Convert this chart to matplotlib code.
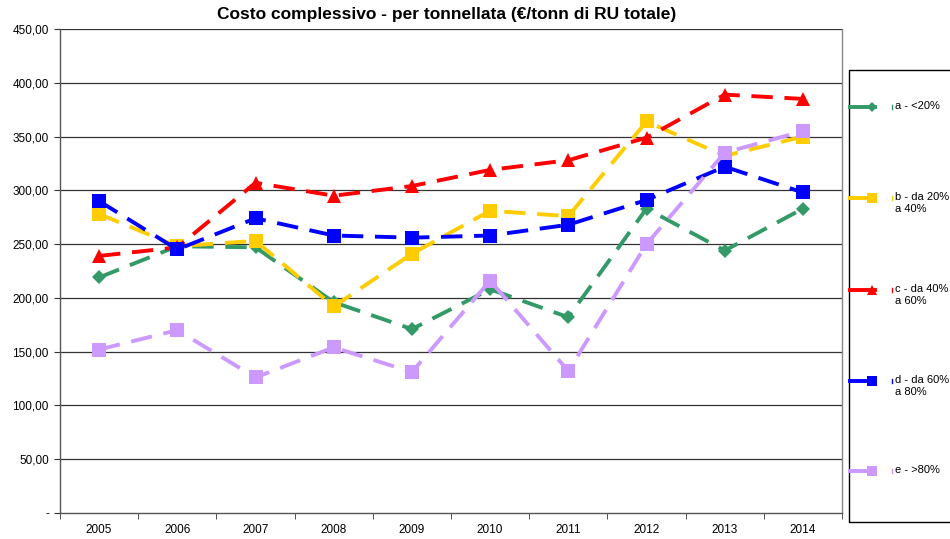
import matplotlib
matplotlib.use("Agg")
import matplotlib.pyplot as plt
from matplotlib.lines import Line2D
from matplotlib.patches import Rectangle
from matplotlib.ticker import FixedLocator

plt.rcParams['font.family'] = ['Liberation Sans', 'DejaVu Sans']

years = ['2005', '2006', '2007', '2008', '2009', '2010', '2011', '2012', '2013', '2014']
a_vals = [219, 248, 247, 196, 171, 208, 182, 283, 244, 283]
b_vals = [278, 248, 253, 192, 241, 281, 276, 364, 332, 350]
c_vals = [239, 247, 307, 295, 304, 319, 328, 349, 389, 385]
d_vals = [290, 245, 274, 258, 256, 258, 268, 291, 322, 298]
e_vals = [152, 170, 126, 154, 131, 216, 132, 250, 335, 355]
labels = ['a - <20%', 'b - da 20%\na 40%', 'c - da 40%\na 60%', 'd - da 60%\na 80%', 'e - >80%']
yticks = [0, 50, 100, 150, 200, 250, 300, 350, 400, 450]

series = [
    (a_vals, '#339966', 'D', 7),
    (b_vals, '#FFCC00', 's', 10),
    (c_vals, '#FF0000', '^', 10),
    (d_vals, '#0000FF', 's', 10),
    (e_vals, '#CC99FF', 's', 10),
]

fig = plt.figure(figsize=(9.5, 5.39), dpi=100)
W, H = 950, 539
left, right, top, bottom = 60, 842, 29, 513
ax = fig.add_axes([left / W, 1 - bottom / H, (right - left) / W, (bottom - top) / H])

x = list(range(len(years)))
for vals, col, mk, ms in series:
    ax.plot(x, vals, color=col, lw=2.8, ls=(0, (5.5, 3)), marker=mk, ms=ms,
            markeredgewidth=0, zorder=3)

ax.set_xlim(-0.5, len(years) - 0.5)
ax.set_ylim(0, 450)
ax.set_yticks(yticks)
ax.set_yticklabels(['-' if v == 0 else f'{v:.2f}'.replace('.', ',') for v in yticks], fontsize=8.5)
for v in yticks[1:]:
    ax.axhline(v, color='#333333', lw=0.9, zorder=1)

ax.set_xticks(x)
ax.set_xticklabels(years, fontsize=8.5)
ax.tick_params(axis='x', length=0, pad=8)
ax.xaxis.set_minor_locator(FixedLocator([i - 0.5 for i in range(len(years) + 1)]))
ax.tick_params(axis='x', which='minor', length=4, direction='out', color='#333333')
ax.tick_params(axis='y', length=4, direction='out', color='#333333', pad=4)

for s in ['left', 'bottom']:
    ax.spines[s].set_color('#555555')
    ax.spines[s].set_linewidth(1.0)
ax.spines['top'].set_visible(False)
ax.spines['right'].set_color('#888888')
ax.spines['right'].set_linewidth(1.0)

fig.text(447 / W, 1 - 14 / H, 'Costo complessivo - per tonnellata (€/tonn di RU totale)',
         ha='center', va='center', fontsize=12.5, fontweight='bold')

# Legend box
fig.add_artist(Rectangle((849 / W, 1 - 522 / H), 120 / W, (522 - 70) / H,
                         transform=fig.transFigure, fill=False, edgecolor='black', lw=1.0))
ys = [107, 198, 290, 381, 471]
for (vals, col, mk, ms), lab, yy in zip(series, labels, ys):
    fy = 1 - yy / H
    fig.add_artist(Line2D([850 / W, 875 / W], [fy, fy], transform=fig.transFigure,
                          color=col, lw=2.8))
    fig.add_artist(Line2D([872 / W], [fy], transform=fig.transFigure, color=col,
                          marker=mk, ms=ms * 0.75, markeredgewidth=0, ls='none'))
    fig.add_artist(Line2D([892 / W, 892 / W], [fy - 2 / H, fy + 2 / H],
                          transform=fig.transFigure, color=col, lw=1))
    fig.text(895 / W, fy + 6 / H, lab, ha='left', va='top', fontsize=8, linespacing=1.3)

fig.savefig('out.png', dpi=100)
